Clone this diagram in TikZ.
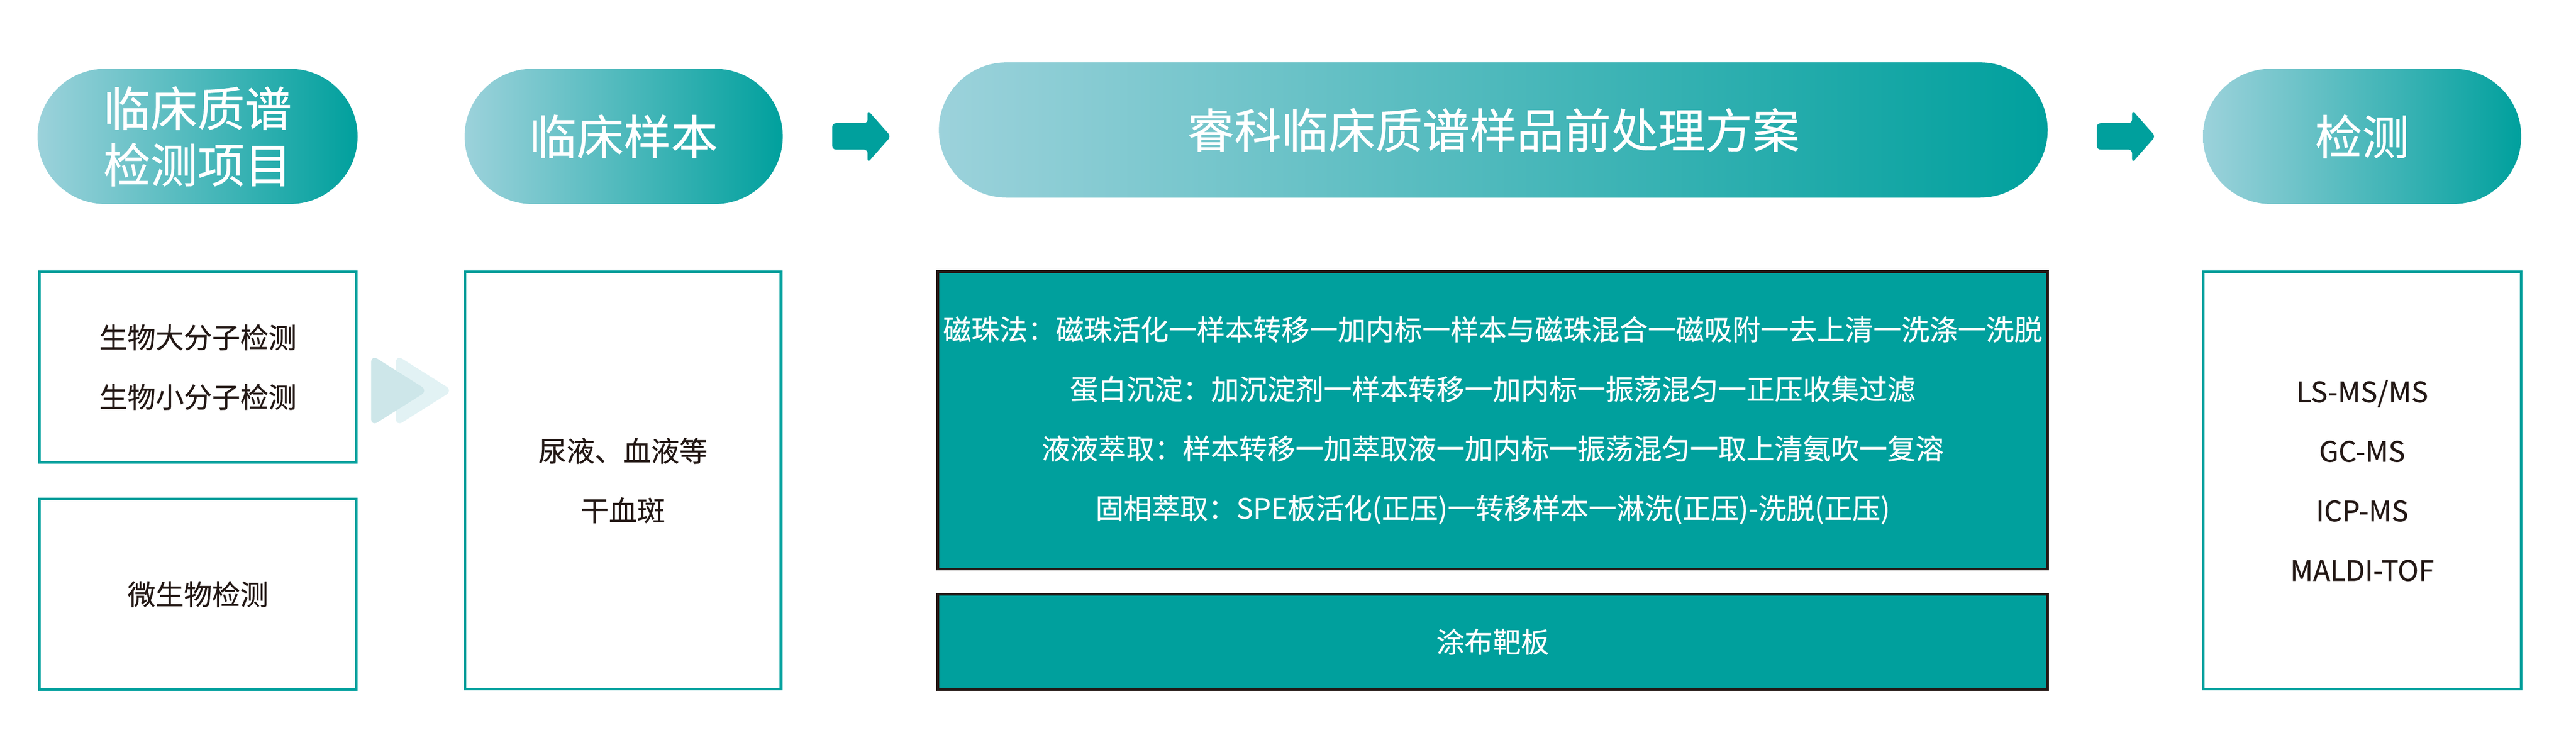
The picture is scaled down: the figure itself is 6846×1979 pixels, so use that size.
\documentclass[tikz,border=0pt]{standalone}
\usepackage{fontspec}
\setmainfont[FakeBold=0.4]{Noto Sans CJK SC}
\usetikzlibrary{positioning,calc}
\definecolor{tealD}{HTML}{00A09D}
\definecolor{tealL}{HTML}{9CD2DB}
\definecolor{ink}{HTML}{231815}
\definecolor{chevA}{HTML}{CDE6E9}
\definecolor{chevB}{HTML}{E2F2F4}

\begin{document}
\begin{tikzpicture}[x=0.01cm,y=-0.01cm,
        head/.style={rounded corners=1.795cm,minimum height=3.59cm,left color=tealL,right color=tealD,
                text=white,align=center,inner sep=0pt,font=\fontsize{35.6}{42.7}\selectfont},
        box/.style={draw=tealD,line width=2pt,align=center,text=ink,inner sep=0pt,
                font=\fontsize{21.3}{45}\selectfont},
        tbox/.style={draw=ink,line width=2.3pt,fill=tealD,text=white,align=center,inner sep=0pt,
                minimum width=29.48cm,font=\fontsize{21.3}{45}\selectfont},
        blockarrow/.style={fill=tealD,rounded corners=0.1cm}]
        \useasboundingbox (0,0) rectangle (6846,1979);

        \node[head,minimum width=8.5cm] (Hitem) at (525,362.5) {临床质谱\\检测项目};
        \node[head,minimum width=8.45cm] (Hsamp) at (1657.5,362.5) {临床样本};
        \node[head,minimum width=29.45cm] (Hplan) at (3968.5,345.5) {睿科临床质谱样品前处理方案};
        \node[head,minimum width=8.45cm] (Hdet) at (6277.5,362.5) {检测};

        \begin{scope}[node distance=0.9cm]
        \node[box,minimum width=8.42cm,minimum height=5.06cm] (Bbio) at (526,975.5) {生物大分子检测\\生物小分子检测};
        \node[box,minimum width=8.42cm,minimum height=5.06cm,below=of Bbio] (Bmicro) {微生物检测};
        \node[box,minimum width=8.4cm,minimum height=11.09cm] (Bsamp) at (1655.5,1277) {尿液、血液等\\干血斑};
        \node[box,minimum width=8.44cm,minimum height=11.09cm] (Bdet) at (6277.5,1277) {LS-MS/MS\\GC-MS\\ICP-MS\\MALDI-TOF};
        \end{scope}

        \begin{scope}[node distance=0.59cm]
        \node[tbox,minimum height=7.9cm] (Bplan) at (3967,1117) {磁珠法：磁珠活化一样本转移一加内标一样本与磁珠混合一磁吸附一去上清一洗涤一洗脱\\
                蛋白沉淀：加沉淀剂一样本转移一加内标一振荡混匀一正压收集过滤\\
                液液萃取：样本转移一加萃取液一加内标一振荡混匀一取上清氨吹一复溶\\
                固相萃取：SPE板活化(正压)一转移样本一淋洗(正压)-洗脱(正压)};
        \node[tbox,minimum height=2.52cm,below=of Bplan] (Bcoat) {涂布靶板};
        \end{scope}

        \coordinate (A1) at ($(Hsamp.east)!0.5!(Hplan.west)$);
        \coordinate (A2) at ($(Hplan.east)!0.5!(Hdet.west)$);
        \foreach \A/\N in {A1/Hsamp,A2/Hdet}
        {\fill[blockarrow,shift={(\A |- \N.east)}] (-76,-35) -- (18,-35) -- (18,-70) -- (80,0)
                -- (18,70) -- (18,35) -- (-76,35) -- cycle;}

        \coordinate (C1) at ($(Bbio.east)!0.5!(Bsamp.west)$);
        \begin{scope}[shift={($(C1 |- Bbio.east)+(0,62.5)$)},rounded corners=0.2cm]
        \fill[chevB] (-39,-95) -- (112,0) -- (-39,95) -- cycle;
        \fill[chevA] (-105,-95) -- (46,0) -- (-105,95) -- cycle;
        \end{scope}
        \end{tikzpicture}
\end{document}
